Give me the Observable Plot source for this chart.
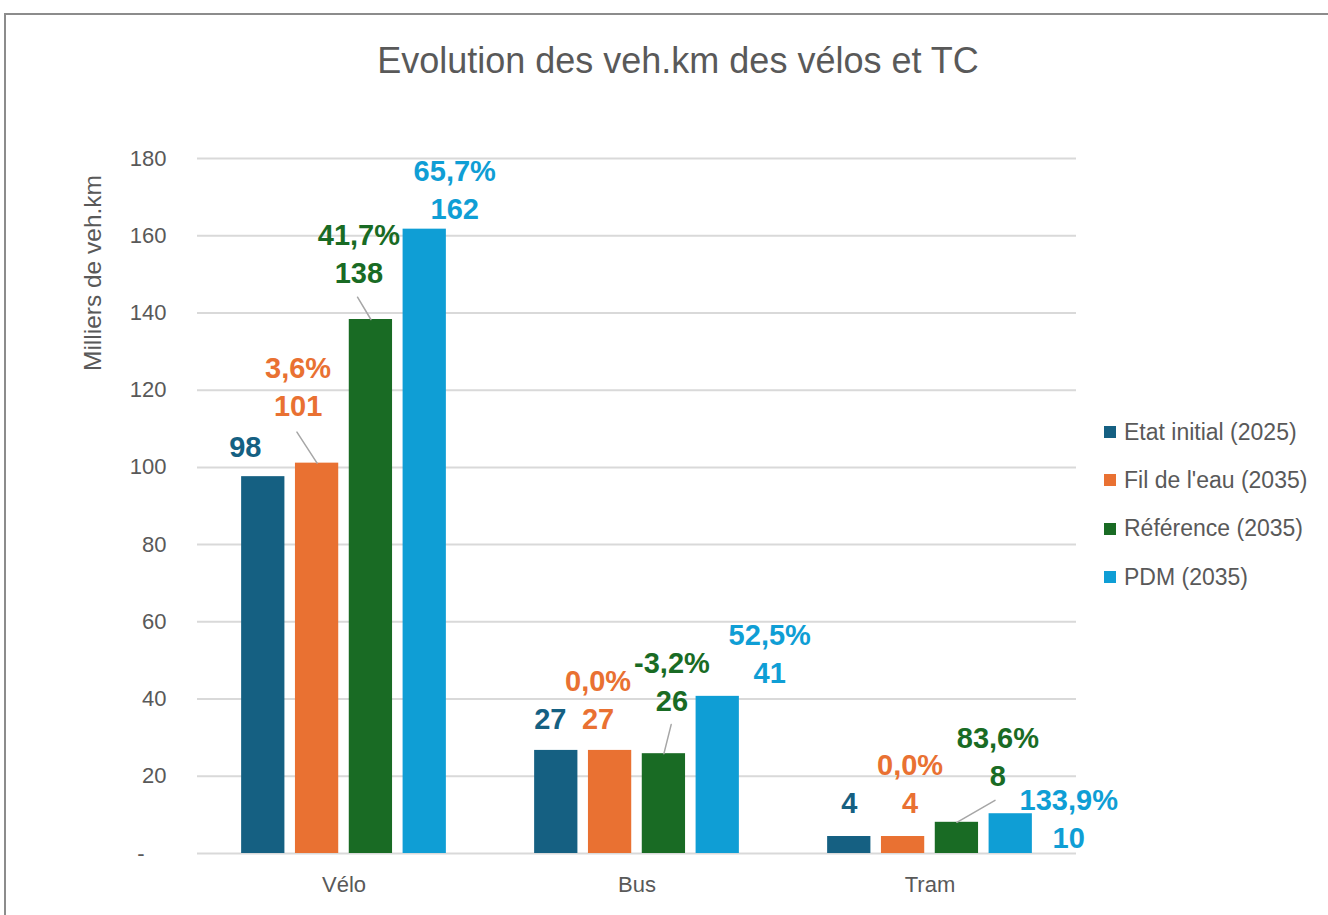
<!DOCTYPE html>
<html>
<head>
<meta charset="utf-8">
<script src="https://cdn.jsdelivr.net/npm/d3@7"></script>
<script src="https://cdn.jsdelivr.net/npm/@observablehq/plot@0.6"></script>
<style>
  html, body { margin: 0; padding: 0; background: #fff; overflow: hidden; }
  #wrap { position: relative; width: 1328px; height: 915px; font-family: "Liberation Sans", Arial, sans-serif; }
  #frame { position: absolute; left: 4px; top: 13px; width: 2000px; height: 2000px;
           border-top: 2px solid #8c8c8c; border-left: 2px solid #8c8c8c; box-sizing: border-box; }
  #chart { position: absolute; left: 0; top: 0; }
  #title { position: absolute; left: 0; width: 1356px; top: 38px; text-align: center;
           font-size: 36px; color: #595959; line-height: 46px; }
  #ylabel { position: absolute; left: 93px; top: 273px; transform: translate(-50%, -50%) rotate(-90deg);
            white-space: nowrap; font-size: 24.5px; color: #595959; }
  #legend { position: absolute; left: 1104px; top: 408px; }
  .item { display: flex; align-items: center; height: 48.3px; font-size: 23px; color: #595959; }
  .sw { width: 12px; height: 12px; margin-right: 8px; }
</style>
</head>
<body>
<div id="wrap">
  <div id="frame"></div>
  <div id="chart"></div>
  <div id="title">Evolution des veh.km des vélos et TC</div>
  <div id="ylabel">Milliers de veh.km</div>
  <div id="legend"></div>
</div>
<script>
// ---- Data ----
const categories = ["Vélo", "Bus", "Tram"];
const series = ["Etat initial (2025)", "Fil de l'eau (2035)", "Référence (2035)", "PDM (2035)"];
const etatInitial = [97.6, 26.7, 4.4];
const filDeLEau = [101.1, 26.7, 4.4];
const reference = [138.3, 25.85, 8.08];
const pdm = [161.7, 40.7, 10.3];
const pctFilDeLEau = [3.6, 0.0, 0.0];
const pctReference = [41.7, -3.2, 83.6];
const pctPdm = [65.7, 52.5, 133.9];
const yTicks = [0, 20, 40, 60, 80, 100, 120, 140, 160, 180];

// ---- Style / layout (not data) ----
const colors = ["#156082", "#E97132", "#196B24", "#0F9ED5"];
// label nudges [dx, dy] of the value line relative to the bar top, per category then series
const labelNudge = [
  [[-18, -29], [-19, -56], [-12, -46], [30, -19]],
  [[-6, -31], [-12, -31], [8, -52], [52, -23]],
  [[0, -33], [7, -33], [41, -46], [58, 25]]
];
const pctGap = 38;
// leader lines: [categoryIndex, seriesIndex, length, rotate]
const leaders = [[0, 1, 37, -33], [0, 2, 26, -31], [1, 2, 30, 14], [2, 2, 44, 60]];

// ---- Build table ----
const valueSeries = [etatInitial, filDeLEau, reference, pdm];
const pctSeries = [null, pctFilDeLEau, pctReference, pctPdm];
const rows = [];
categories.forEach((c, ci) => {
  series.forEach((s, si) => {
    rows.push({
      category: c, series: s, ci, si,
      value: valueSeries[si][ci],
      pct: pctSeries[si] ? pctSeries[si][ci] : null
    });
  });
});
const fmtPct = p => p.toFixed(1).replace(".", ",") + "%";

const marks = [
  Plot.gridY({ticks: yTicks, stroke: "#d9d9d9", strokeOpacity: 1, strokeWidth: 2}),
  Plot.axisY({ticks: yTicks, tickFormat: d => d === 0 ? "-\u2002\u2002" : String(d), tickSize: 0,
              tickPadding: 31, label: null, fontSize: 22, color: "#595959"}),
  Plot.axisFx({anchor: "bottom", tickSize: 0, tickPadding: 23, label: null, fontSize: 22, color: "#595959"}),
  Plot.barY(rows, {fx: "category", x: "series", y: "value", fill: "series"})
];

const lineShape = {
  draw(context, l) { context.moveTo(0, 0); context.lineTo(0, -l); }
};
for (const [ci, si, len, rot] of leaders) {
  const d = rows.find(r => r.ci === ci && r.si === si);
  marks.push(Plot.vector([d], {fx: "category", x: "series", y: "value", length: len, rotate: rot,
    anchor: "start", shape: lineShape, stroke: "#a6a6a6", strokeWidth: 1.5}));
}

for (const d of rows) {
  const [dx, dy] = labelNudge[d.ci][d.si];
  const common = {fx: "category", x: "series", y: "value", dx, fill: colors[d.si],
    fontSize: 29, fontWeight: "bold", textAnchor: "middle", lineAnchor: "middle"};
  marks.push(Plot.text([d], {...common, dy, text: r => String(Math.round(r.value))}));
  if (d.pct !== null) {
    marks.push(Plot.text([d], {...common, dy: dy - pctGap, text: r => fmtPct(r.pct)}));
  }
}

const chart = Plot.plot({
  width: 1328,
  height: 915,
  marginTop: 158,
  marginBottom: 62,
  marginLeft: 197,
  marginRight: 252,
  style: {fontFamily: "Liberation Sans, Arial, sans-serif", background: "transparent", color: "#595959"},
  fx: {domain: categories, padding: 0, label: null, round: false},
  x: {domain: series, paddingInner: 0.196, paddingOuter: 0.82, round: false, axis: null},
  y: {domain: [0, 180], axis: null},
  color: {domain: series, range: colors},
  marks
});
document.getElementById("chart").appendChild(chart);

// legend
const legend = document.getElementById("legend");
series.forEach((s, i) => {
  const item = document.createElement("div");
  item.className = "item";
  const sw = document.createElement("div");
  sw.className = "sw";
  sw.style.background = colors[i];
  const t = document.createElement("span");
  t.textContent = s;
  item.appendChild(sw);
  item.appendChild(t);
  legend.appendChild(item);
});
</script>
</body>
</html>
